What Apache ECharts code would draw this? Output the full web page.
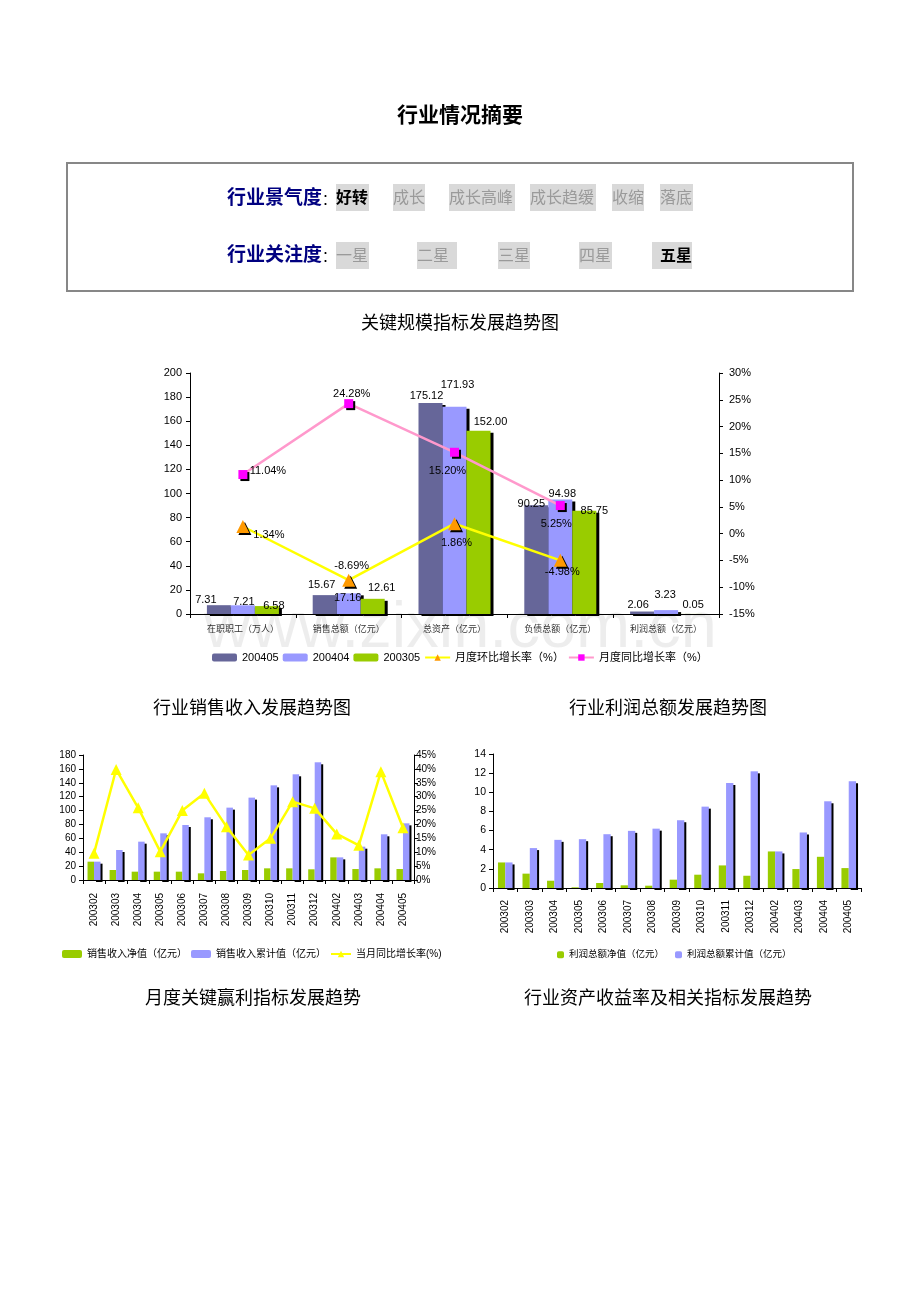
<!DOCTYPE html>
<html>
<head>
<meta charset="utf-8">
<script src="https://cdn.jsdelivr.net/npm/echarts@6/dist/echarts.min.js"></script>
<style>
  html, body { margin:0; padding:0; background:#fff; }
  #page { position:relative; width:920px; height:1302px; overflow:hidden; }
  #c { position:absolute; left:0; top:0; width:920px; height:1302px; }
  .abs { position:absolute; white-space:nowrap; font-family:'Noto Sans CJK SC', sans-serif; }
  .item { position:absolute; height:27px; line-height:25px; background:#d9d9d9; color:#9a9a9a; font-size:16px; font-family:'Noto Sans CJK SC', sans-serif; white-space:nowrap; }
  .sel { color:#000; font-weight:bold; }
  .lbl { position:absolute; color:#000080; font-weight:bold; font-size:19px; line-height:24px; font-family:'Noto Sans CJK SC', sans-serif; white-space:nowrap; }
  .lbl span { color:#000; font-weight:normal; font-size:14px; }
</style>
</head>
<body>
<div id="page">
  <div id="c"></div>
  <div class="abs" style="left:0;width:920px;top:99px;text-align:center;font-size:21px;font-weight:bold;line-height:28px;">行业情况摘要</div>
  <div class="abs" style="left:66px;top:162px;width:788px;height:130px;box-sizing:border-box;border:2px solid #878787;"></div>
  <div id="rows"></div>
</div>
<script>
// ---------------- data ----------------
const mainCategories = ['在职职工（万人）', '销售总额（亿元）', '总资产（亿元）', '负债总额（亿元）', '利润总额（亿元）'];
const s200405 = [7.31, 15.67, 175.12, 90.25, 2.06];
const s200404 = [7.21, 17.16, 171.93, 94.98, 3.23];
const s200305 = [6.58, 12.61, 152.00, 85.75, 0.05];
const momRate = [1.34, -8.69, 1.86, -4.98, '-'];
const yoyRate = [11.04, 24.28, 15.20, 5.25, '-'];

const months = ['200302', '200303', '200304', '200305', '200306', '200307', '200308', '200309', '200310', '200311', '200312', '200402', '200403', '200404', '200405'];
const salesNet = [26.4, 14.4, 12.0, 12.0, 12.0, 9.6, 13.0, 14.4, 16.8, 16.8, 15.4, 32.6, 15.8, 16.8, 15.8];
const salesCum = [26.4, 43.2, 55.2, 67.2, 79.2, 90.3, 104.2, 118.6, 136.3, 152.2, 169.5, 32.6, 48.0, 65.8, 81.6];
const salesYoY = [9.6, 39.8, 26.0, 10.2, 25.0, 31.2, 19.2, 9.0, 15.0, 28.2, 25.8, 16.6, 12.5, 39.0, 18.8];

const profitNet = [2.67, 1.50, 0.76, 0.07, 0.52, 0.28, 0.24, 0.87, 1.39, 2.36, 1.28, 3.82, 1.98, 3.26, 2.08];
const profitCum = [2.67, 4.17, 5.03, 5.10, 5.62, 5.97, 6.20, 7.08, 8.50, 10.97, 12.19, 3.82, 5.80, 9.06, 11.15];

const climateLevels = ['好转', '成长', '成长高峰', '成长趋缓', '收缩', '落底'];
const attentionLevels = ['一星', '二星', '三星', '四星', '五星'];

// ---------------- header rows (layout) ----------------
const rows = document.getElementById('rows');
function addLabel(text, x, y) {
  const d = document.createElement('div');
  d.className = 'lbl';
  d.style.left = x + 'px'; d.style.top = y + 'px';
  d.innerHTML = text + '<span>：</span>';
  rows.appendChild(d);
}
function addItem(text, x, y, w, pad, sel) {
  const d = document.createElement('div');
  d.className = 'item' + (sel ? ' sel' : '');
  d.style.left = x + 'px'; d.style.top = y + 'px'; d.style.width = w + 'px';
  d.style.paddingLeft = pad + 'px'; d.style.boxSizing = 'border-box';
  d.textContent = text;
  rows.appendChild(d);
}
addLabel('行业景气度', 227, 184);
addLabel('行业关注度', 227, 241);
const climateLayout = [[336, 33, 0], [393, 32, 0], [449, 66, 0], [530, 66, 0], [612, 32, 0], [660, 33, 0]];
climateLevels.forEach((t, i) => addItem(t, climateLayout[i][0], 184, climateLayout[i][1], climateLayout[i][2], i === 0));
const attentionLayout = [[336, 33, 0], [417, 40, 0], [498, 32, 0], [579, 33, 0], [652, 40, 8]];
attentionLevels.forEach((t, i) => addItem(t, attentionLayout[i][0], 242, attentionLayout[i][1], attentionLayout[i][2], i === 4));

// ---------------- chart ----------------
const FONT = "'Liberation Sans', 'Noto Sans CJK SC', sans-serif";
const CJK = "'Noto Sans CJK SC', sans-serif";

const barLabelOffsets = [
  [[-13, 0], [-3, -5], [-4, -2], [-5, 4], [-4, -1]],
  [[1, 2], [-1, 10], [3, -16], [2, 0], [-1, -10]],
  [[7, 5], [9, -5], [12, -3], [10, 6], [3, -3]]
];
const yoyLabelOffsets = [[25, -4], [3, -10], [-7, 19], [-4, 18], [0, 0]];
const momLabelOffsets = [[26, 8], [3, -14], [2, 19], [2, 12], [0, 0]];

const barShadow = { shadowColor: '#000', shadowOffsetX: 3, shadowOffsetY: 2, shadowBlur: 0 };
const smallShadow = { shadowColor: '#000', shadowOffsetX: 2, shadowOffsetY: 2, shadowBlur: 0 };

function valAxis(grid, pos, min, max, interval, fmt, fs, margin) {
  return {
    type: 'value', gridIndex: grid, position: pos, min: min, max: max, interval: interval,
    axisLine: { show: true, lineStyle: { color: '#000', width: 1 } },
    axisTick: { show: true, length: 4, lineStyle: { color: '#000' } },
    splitLine: { show: false },
    axisLabel: { fontSize: fs, color: '#000', fontFamily: FONT, margin: margin, formatter: fmt }
  };
}
function catAxis(grid, data, labelOpt) {
  return {
    type: 'category', gridIndex: grid, data: data,
    axisLine: { show: true, lineStyle: { color: '#000', width: 1 } },
    axisTick: { show: true, length: 4, lineStyle: { color: '#000' } },
    splitLine: { show: false },
    axisLabel: Object.assign({ interval: 0, color: '#000', fontFamily: FONT }, labelOpt)
  };
}

const chart = echarts.init(document.getElementById('c'));
const option = {
  animation: false,
  textStyle: { fontFamily: FONT },
  graphic: [
    { type: 'text', left: 204, top: 597, z: 0, silent: true,
      style: { text: 'www.zixin.com.cn', font: '65px "Liberation Sans", sans-serif', fill: 'rgba(0,0,0,0.07)' } },
    { type: 'text', x: 460, y: 322, style: { text: '关键规模指标发展趋势图', font: '18px ' + CJK, fill: '#000', textAlign: 'center', textVerticalAlign: 'middle' } },
    { type: 'text', x: 252, y: 707, style: { text: '行业销售收入发展趋势图', font: '18px ' + CJK, fill: '#000', textAlign: 'center', textVerticalAlign: 'middle' } },
    { type: 'text', x: 668, y: 707, style: { text: '行业利润总额发展趋势图', font: '18px ' + CJK, fill: '#000', textAlign: 'center', textVerticalAlign: 'middle' } },
    { type: 'text', x: 253, y: 997, style: { text: '月度关键赢利指标发展趋势', font: '18px ' + CJK, fill: '#000', textAlign: 'center', textVerticalAlign: 'middle' } },
    { type: 'text', x: 668, y: 997, style: { text: '行业资产收益率及相关指标发展趋势', font: '18px ' + CJK, fill: '#000', textAlign: 'center', textVerticalAlign: 'middle' } }
  ],
  grid: [
    { left: 190, top: 373, width: 529, height: 241 },
    { left: 83, top: 755, width: 331, height: 125 },
    { left: 493, top: 754, width: 368, height: 134 }
  ],
  xAxis: [
    catAxis(0, mainCategories, { fontSize: 9, color: '#333', fontFamily: CJK, margin: 10 }),
    catAxis(1, months, { fontSize: 10, rotate: 90, margin: 13 }),
    catAxis(2, months, { fontSize: 10, rotate: 90, margin: 12 })
  ],
  yAxis: [
    valAxis(0, 'left', 0, 200, 20, '{value}', 11, 8),
    valAxis(0, 'right', -15, 30, 5, '{value}%', 11, 10),
    valAxis(1, 'left', 0, 180, 20, '{value}', 10, 7),
    valAxis(1, 'right', 0, 45, 5, '{value}%', 10, 2),
    valAxis(2, 'left', 0, 14, 2, '{value}', 10.5, 7)
  ],
  legend: [
    { left: 212, top: 652, padding: 0, itemWidth: 25, itemHeight: 8, itemGap: 4,
      textStyle: { fontSize: 11, color: '#000', fontFamily: FONT },
      data: ['200405', '200404', '200305', '月度环比增长率（%）', '月度同比增长率（%）'] },
    { left: 62, top: 949, padding: 0, itemWidth: 20, itemHeight: 8, itemGap: 4,
      textStyle: { fontSize: 10, color: '#000', fontFamily: FONT },
      data: ['销售收入净值（亿元）', '销售收入累计值（亿元）', '当月同比增长率(%)'] },
    { left: 557, top: 950, padding: 0, itemWidth: 7, itemHeight: 7, itemGap: 11,
      textStyle: { fontSize: 9.5, color: '#000', fontFamily: FONT },
      data: ['利润总额净值（亿元）', '利润总额累计值（亿元）'] }
  ],
  series: [
    { name: '200405', type: 'bar', xAxisIndex: 0, yAxisIndex: 0, barWidth: 24, barGap: '0%',
      itemStyle: Object.assign({ color: '#666699' }, barShadow),
      label: { show: true, position: 'top', distance: 0, fontSize: 11, color: '#000', formatter: p => Number(p.value).toFixed(2) },
      data: s200405.map((v, i) => ({ value: v, label: { offset: barLabelOffsets[0][i] } })) },
    { name: '200404', type: 'bar', xAxisIndex: 0, yAxisIndex: 0, barWidth: 24, barGap: '0%',
      itemStyle: Object.assign({ color: '#9999FF' }, barShadow),
      label: { show: true, position: 'top', distance: 0, fontSize: 11, color: '#000', formatter: p => Number(p.value).toFixed(2) },
      data: s200404.map((v, i) => ({ value: v, label: { offset: barLabelOffsets[1][i] } })) },
    { name: '200305', type: 'bar', xAxisIndex: 0, yAxisIndex: 0, barWidth: 24, barGap: '0%',
      itemStyle: Object.assign({ color: '#99CC00' }, barShadow),
      label: { show: true, position: 'top', distance: 0, fontSize: 11, color: '#000', formatter: p => Number(p.value).toFixed(2) },
      data: s200305.map((v, i) => ({ value: v, label: { offset: barLabelOffsets[2][i] } })) },
    { name: '月度环比增长率（%）', type: 'line', xAxisIndex: 0, yAxisIndex: 1, z: 5,
      symbol: 'triangle', symbolSize: 13, connectNulls: false,
      lineStyle: { color: '#FFFF00', width: 2.5 },
      itemStyle: Object.assign({ color: '#FF9900' }, smallShadow),
      label: { show: true, position: 'inside', fontSize: 11, color: '#000', formatter: p => Number(p.value).toFixed(2) + '%' },
      data: momRate.map((v, i) => ({ value: v, label: { offset: momLabelOffsets[i] } })) },
    { name: '月度同比增长率（%）', type: 'line', xAxisIndex: 0, yAxisIndex: 1, z: 5,
      symbol: 'rect', symbolSize: 9, connectNulls: false,
      lineStyle: { color: '#FF99CC', width: 2.5 },
      itemStyle: Object.assign({ color: '#FF00FF' }, smallShadow),
      label: { show: true, position: 'inside', fontSize: 11, color: '#000', formatter: p => Number(p.value).toFixed(2) + '%' },
      data: yoyRate.map((v, i) => ({ value: v, label: { offset: yoyLabelOffsets[i] } })) },

    { name: '销售收入净值（亿元）', type: 'bar', xAxisIndex: 1, yAxisIndex: 2, barWidth: 6.5, barGap: '0%',
      itemStyle: { color: '#99CC00' }, data: salesNet },
    { name: '销售收入累计值（亿元）', type: 'bar', xAxisIndex: 1, yAxisIndex: 2, barWidth: 6.5, barGap: '0%',
      itemStyle: { color: '#9999FF', shadowColor: '#000', shadowOffsetX: 2, shadowOffsetY: 2, shadowBlur: 0 }, data: salesCum },
    { name: '当月同比增长率(%)', type: 'line', xAxisIndex: 1, yAxisIndex: 3, z: 5,
      symbol: 'triangle', symbolSize: 11,
      lineStyle: { color: '#FFFF00', width: 2.5 }, itemStyle: { color: '#FFFF00' }, data: salesYoY },

    { name: '利润总额净值（亿元）', type: 'bar', xAxisIndex: 2, yAxisIndex: 4, barWidth: 7.3, barGap: '0%',
      itemStyle: { color: '#99CC00' }, data: profitNet },
    { name: '利润总额累计值（亿元）', type: 'bar', xAxisIndex: 2, yAxisIndex: 4, barWidth: 7.3, barGap: '0%',
      itemStyle: { color: '#9999FF', shadowColor: '#000', shadowOffsetX: 2, shadowOffsetY: 2, shadowBlur: 0 }, data: profitCum }
  ]
};
chart.setOption(option);
</script>
</body>
</html>
